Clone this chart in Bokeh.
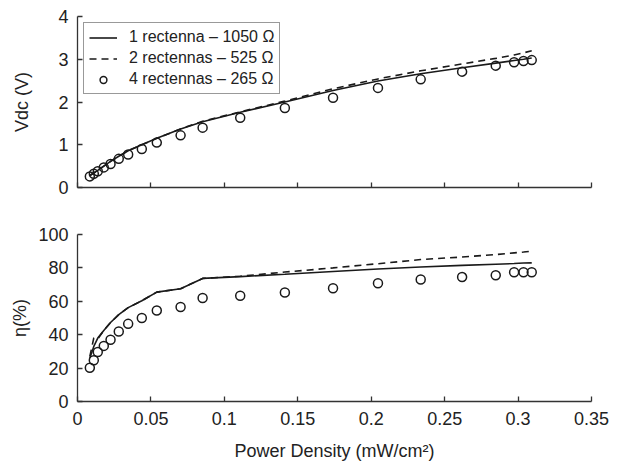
from bokeh.plotting import figure
from bokeh.layouts import column
from bokeh.models import Range1d, FixedTicker, Legend, LegendItem
from bokeh.embed import file_html
from bokeh.resources import INLINE

# Incident power density (mW/cm^2)
power_density = [0.0084, 0.0111, 0.0138, 0.0179, 0.0225, 0.0281, 0.0345, 0.0438, 0.054,
                 0.0702, 0.0852, 0.1108, 0.1412, 0.174, 0.2046, 0.2337, 0.2619, 0.2848,
                 0.2973, 0.3037, 0.3093]

# DC output voltage (V)
vdc_1 = [0.28, 0.34, 0.40, 0.50, 0.61, 0.73, 0.86, 1.00, 1.15, 1.37, 1.54, 1.76, 2.00,
         2.27, 2.49, 2.66, 2.80, 2.91, 2.97, 3.00, 3.03]
vdc_2 = [0.28, 0.34, 0.40, 0.50, 0.61, 0.73, 0.86, 1.00, 1.15, 1.37, 1.55, 1.77, 2.02,
         2.31, 2.54, 2.73, 2.89, 3.02, 3.10, 3.15, 3.20]
vdc_4 = [0.26, 0.32, 0.38, 0.47, 0.55, 0.67, 0.77, 0.90, 1.05, 1.22, 1.40, 1.63, 1.86,
         2.10, 2.33, 2.53, 2.71, 2.85, 2.93, 2.96, 2.98]

# Conversion efficiency (%)
eff_1 = [26, 33, 38, 42.5, 47.3, 52, 56.2, 60.3, 65.5, 67.5, 73.7, 74.8, 76.2, 77.8,
         79.3, 80.5, 81.5, 82.2, 82.6, 82.9, 83.0]
eff_2 = [27, 38, 37.5, 42.5, 47.3, 52, 56.2, 60.3, 65.5, 67.5, 73.7, 75, 77.5, 80,
         82.5, 85, 86.5, 88, 89, 89.5, 90]
eff_4 = [20.2, 24.7, 29.6, 33.3, 37.0, 41.9, 46.5, 50.0, 54.5, 56.6, 62.0, 63.3, 65.3,
         67.8, 70.8, 73.1, 74.5, 75.6, 77.4, 77.4, 77.4]

series_labels = ["1 rectenna \u2013 1050 \u03a9", "2 rectennas \u2013 525 \u03a9",
                 "4 rectennas \u2013 265 \u03a9"]
x_ticks = [0, 0.05, 0.1, 0.15, 0.2, 0.25, 0.3, 0.35]
x_tick_labels = ["0", "0.05", "0.1", "0.15", "0.2", "0.25", "0.3", "0.35"]
vdc_ticks = [0, 1, 2, 3, 4]
eff_ticks = [0, 20, 40, 60, 80, 100]

FONT = "Liberation Sans"
INK = "#222222"
W = 619


def style(p, yticks):
    p.outline_line_color = None
    p.xgrid.visible = False
    p.ygrid.visible = False
    for ax in (p.xaxis[0], p.yaxis[0]):
        ax.axis_line_color = "#333333"
        ax.axis_line_width = 1.3
        ax.major_tick_line_color = "#333333"
        ax.major_tick_line_width = 1.3
        ax.major_tick_in = 5
        ax.major_tick_out = 0
        ax.minor_tick_line_color = None
        ax.major_label_text_font = FONT
        ax.major_label_text_font_size = "18px"
        ax.major_label_text_color = INK
        ax.axis_label_text_font = FONT
        ax.axis_label_text_font_size = "18px"
        ax.axis_label_text_font_style = "normal"
        ax.axis_label_text_color = INK
    p.xaxis[0].ticker = FixedTicker(ticks=x_ticks)
    p.yaxis[0].ticker = FixedTicker(ticks=yticks)
    p.yaxis[0].major_label_standoff = 9


# Upper panel: output voltage
top = figure(width=W, height=214, output_backend="svg", toolbar_location=None,
             x_range=Range1d(0, 0.35), y_range=Range1d(0, 4),
             min_border_left=77, min_border_right=28, min_border_top=16,
             min_border_bottom=27)
style(top, vdc_ticks)
top.xaxis[0].major_label_overrides = {t: "" for t in x_ticks}
top.yaxis[0].axis_label = "Vdc (V)"
top.yaxis[0].axis_label_standoff = 23

r1 = top.line(power_density, vdc_1, line_color="#1a1a1a", line_width=1.6)
r2 = top.line(power_density, vdc_2, line_color="#1a1a1a", line_width=1.6,
              line_dash="7 5")
r3 = top.scatter(power_density, vdc_4, marker="circle", size=9, fill_color=None,
                 line_color="#1a1a1a", line_width=1.5)

legend = Legend(items=[LegendItem(label=series_labels[0], renderers=[r1]),
                       LegendItem(label=series_labels[1], renderers=[r2]),
                       LegendItem(label=series_labels[2], renderers=[r3])],
                location="top_left", margin=6, padding=5, spacing=3,
                glyph_width=28, glyph_height=17, label_height=17,
                label_standoff=12, label_text_font=FONT,
                label_text_font_size="16px", label_text_color=INK,
                border_line_color="#333333", border_line_width=1.2,
                background_fill_color="white", background_fill_alpha=1)
top.add_layout(legend)

# Lower panel: efficiency
bot = figure(width=W, height=249, output_backend="svg", toolbar_location=None,
             x_range=Range1d(0, 0.35), y_range=Range1d(0, 100),
             min_border_left=77, min_border_right=28, min_border_top=20,
             min_border_bottom=59)
style(bot, eff_ticks)
bot.xaxis[0].major_label_overrides = dict(zip(x_ticks, x_tick_labels))
bot.xaxis[0].major_label_standoff = 10
bot.xaxis[0].axis_label = "Power Density (mW/cm\u00b2)"
bot.xaxis[0].axis_label_standoff = 13
bot.yaxis[0].axis_label = "\u03b7(%)"
bot.yaxis[0].axis_label_standoff = 5

bot.line(power_density, eff_1, line_color="#1a1a1a", line_width=1.6)
bot.line(power_density, eff_2, line_color="#1a1a1a", line_width=1.6, line_dash="7 5")
bot.scatter(power_density, eff_4, marker="circle", size=9, fill_color=None,
            line_color="#1a1a1a", line_width=1.5)

layout = column(top, bot, spacing=0)
open("out.html", "w").write(file_html(layout, INLINE))
